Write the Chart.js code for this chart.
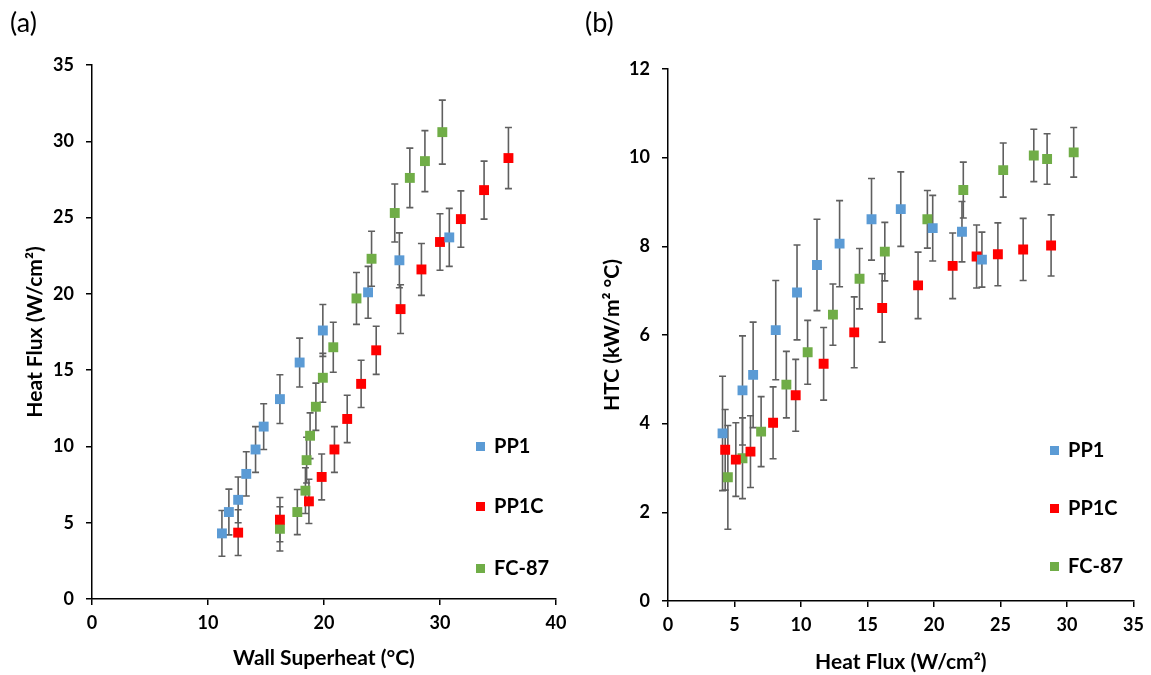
<!DOCTYPE html>
<html>
<head>
<meta charset="UTF-8">
<title>Heat flux and HTC</title>
<script src="https://cdn.jsdelivr.net/npm/chart.js"></script>
<style>
  body { margin: 0; background: #fff; font-family: Lato, 'DejaVu Sans', sans-serif; }
  #wrap { position: relative; width: 1151px; height: 675px; }
  .panel { position: absolute; top: 0; height: 675px; }
  .tag { position: absolute; top: 5px; font-size: 27px; color: #000; }
  .leg { position: absolute; font-weight: bold; font-size: 20px; line-height: 20px; color: #000; }
  .leg i { display: inline-block; width: 9px; height: 9px; margin-right: 9px; vertical-align: 2px; }
</style>
</head>
<body>
<div id="wrap">
  <div class="panel" style="left:0;width:575px"><canvas id="chartA"></canvas></div>
  <div class="panel" style="left:575px;width:576px"><canvas id="chartB"></canvas></div>

  <div class="tag" style="left:10px">(a)</div>
  <div class="tag" style="left:585px">(b)</div>

  <div class="leg" style="left:476px;top:435px"><i style="background:#5B9BD5"></i>PP1</div>
  <div class="leg" style="left:476px;top:495px"><i style="background:#FF0000"></i>PP1C</div>
  <div class="leg" style="left:476px;top:557px"><i style="background:#70AD47"></i>FC-87</div>

  <div class="leg" style="left:1050px;top:439px"><i style="background:#5B9BD5"></i>PP1</div>
  <div class="leg" style="left:1050px;top:497px"><i style="background:#FF0000"></i>PP1C</div>
  <div class="leg" style="left:1050px;top:555px"><i style="background:#70AD47"></i>FC-87</div>
</div>

<script>
// (a) heat flux vs wall superheat
const aPP1x   = [11.2, 11.8, 12.6, 13.3, 14.1, 14.8, 16.2, 17.9, 19.9, 23.8, 26.5, 30.8];
const aPP1y   = [4.3, 5.7, 6.5, 8.2, 9.8, 11.3, 13.1, 15.5, 17.6, 20.1, 22.2, 23.7];
const aPP1err = [1.5, 1.5, 1.5, 1.45, 1.5, 1.5, 1.6, 1.6, 1.7, 1.7, 1.8, 1.9];

const aPP1Cx   = [12.6, 16.2, 18.7, 19.8, 20.9, 22.0, 23.2, 24.5, 26.6, 28.4, 30.0, 31.8, 33.8, 35.9];
const aPP1Cy   = [4.35, 5.2, 6.4, 8.0, 9.8, 11.8, 14.1, 16.3, 19.0, 21.6, 23.4, 24.9, 26.8, 28.9];
const aPP1Cerr = [1.5, 1.45, 1.45, 1.5, 1.5, 1.55, 1.55, 1.58, 1.6, 1.7, 1.85, 1.85, 1.9, 2.0];

const aFCx   = [16.2, 17.7, 18.4, 18.5, 18.8, 19.3, 19.9, 20.8, 22.8, 24.1, 26.1, 27.4, 28.7, 30.2];
const aFCy   = [4.6, 5.7, 7.1, 9.1, 10.7, 12.6, 14.5, 16.5, 19.7, 22.3, 25.3, 27.6, 28.7, 30.6];
const aFCerr = [1.45, 1.48, 1.5, 1.5, 1.5, 1.55, 1.6, 1.64, 1.7, 1.8, 1.9, 1.95, 2.0, 2.1];

// (b) HTC vs heat flux
const bPP1x   = [4.1, 5.6, 6.4, 8.1, 9.7, 11.2, 12.9, 15.3, 17.5, 19.9, 22.1, 23.6];
const bPP1y   = [3.78, 4.75, 5.1, 6.11, 6.96, 7.58, 8.06, 8.61, 8.84, 8.41, 8.33, 7.7];
const bPP1err = [1.29, 1.23, 1.19, 1.12, 1.07, 1.03, 0.97, 0.92, 0.84, 0.74, 0.68, 0.62];

const bPP1Cx   = [4.3, 5.1, 6.2, 7.9, 9.6, 11.7, 14.0, 16.1, 18.8, 21.4, 23.2, 24.8, 26.7, 28.8];
const bPP1Cy   = [3.41, 3.19, 3.37, 4.02, 4.64, 5.35, 6.06, 6.61, 7.12, 7.56, 7.77, 7.82, 7.93, 8.02];
const bPP1Cerr = [0.91, 0.83, 0.81, 0.81, 0.81, 0.82, 0.8, 0.77, 0.75, 0.74, 0.71, 0.71, 0.7, 0.69];

const bFCx   = [4.5, 5.6, 7.0, 8.9, 10.5, 12.4, 14.4, 16.3, 19.5, 22.2, 25.2, 27.5, 28.5, 30.5];
const bFCy   = [2.79, 3.22, 3.82, 4.88, 5.61, 6.46, 7.27, 7.88, 8.61, 9.27, 9.72, 10.05, 9.97, 10.12];
const bFCerr = [1.17, 0.91, 0.79, 0.75, 0.72, 0.69, 0.68, 0.66, 0.65, 0.63, 0.61, 0.59, 0.57, 0.56];

const seriesNames  = ['PP1', 'PP1C', 'FC-87'];
const seriesColors = ['#5B9BD5', '#FF0000', '#70AD47'];

function pts(xs, ys) {
    return xs.map((x, i) => ({ x: x, y: ys[i] }));
}

function makeSet(k, xs, ys, errs) {
    return {
        label: seriesNames[k],
        data: pts(xs, ys),
        errors: errs,
        backgroundColor: seriesColors[k],
        borderColor: seriesColors[k],
        pointStyle: 'rect',
        pointRadius: 7,
        pointBorderWidth: 0,
        showLine: false
    };
}

// vertical error bars, drawn under the markers
const errorBars = {
    id: 'errorBars',
    beforeDatasetsDraw(chart) {
        const ctx = chart.ctx;
        const xs = chart.scales.x, ys = chart.scales.y;
        ctx.save();
        ctx.strokeStyle = '#5f5f5f';
        ctx.lineWidth = 1.6;
        chart.data.datasets.forEach(ds => {
            ds.data.forEach((p, i) => {
                const e = ds.errors[i];
                const px = xs.getPixelForValue(p.x);
                const top = ys.getPixelForValue(p.y + e);
                const bot = ys.getPixelForValue(p.y - e);
                ctx.beginPath();
                ctx.moveTo(px, top); ctx.lineTo(px, bot);
                ctx.moveTo(px - 3.5, top); ctx.lineTo(px + 3.5, top);
                ctx.moveTo(px - 3.5, bot); ctx.lineTo(px + 3.5, bot);
                ctx.stroke();
            });
        });
        ctx.restore();
    }
};

const tickFont = { family: 'Lato', size: 18, weight: 'bold' };
const titleFont = { family: 'Lato', size: 21, weight: 'bold' };

function axis(min, max, step, title, isY, fit, titlePad) {
    return {
        type: 'linear',
        min: min, max: max,
        ticks: { stepSize: step, color: '#000', font: tickFont, padding: isY ? 12 : 7 },
        grid: { drawOnChartArea: false, drawTicks: true, tickLength: 6, color: '#000', lineWidth: 1.5 },
        border: { display: true, color: '#000', width: 1.5 },
        title: { display: true, text: title, color: '#000', font: titleFont, padding: titlePad },
        afterFit: s => { if (isY) s.width = fit; else s.height = fit; }
    };
}

function makeChart(id, sets, xAx, yAx, pad) {
    const c = document.getElementById(id);
    return new Chart(c.getContext('2d'), {
        type: 'scatter',
        data: { datasets: sets },
        options: {
            responsive: true,
            maintainAspectRatio: false,
            animation: false,
            layout: { padding: pad },
            plugins: { legend: { display: false }, tooltip: { enabled: false } },
            scales: { x: xAx, y: yAx }
        },
        plugins: [errorBars]
    });
}

makeChart('chartA',
    [makeSet(0, aPP1x, aPP1y, aPP1err), makeSet(1, aPP1Cx, aPP1Cy, aPP1Cerr), makeSet(2, aFCx, aFCy, aFCerr)],
    axis(0, 40, 10, 'Wall Superheat (°C)', false, 76, { top: 0, bottom: 4 }),
    axis(0, 35, 5, 'Heat Flux (W/cm²)', true, 92, { top: 23, bottom: 0 }),
    { top: 65, right: 19, left: 0, bottom: 0 });

makeChart('chartB',
    [makeSet(0, bPP1x, bPP1y, bPP1err), makeSet(1, bPP1Cx, bPP1Cy, bPP1Cerr), makeSet(2, bFCx, bFCy, bFCerr)],
    axis(0, 35, 5, 'Heat Flux (W/cm²)', false, 74, { top: 0, bottom: 0 }),
    axis(0, 12, 2, 'HTC (kW/m² °C)', true, 93, { top: 25, bottom: 0 }),
    { top: 69, right: 17, left: 0, bottom: 0 });
</script>
</body>
</html>
